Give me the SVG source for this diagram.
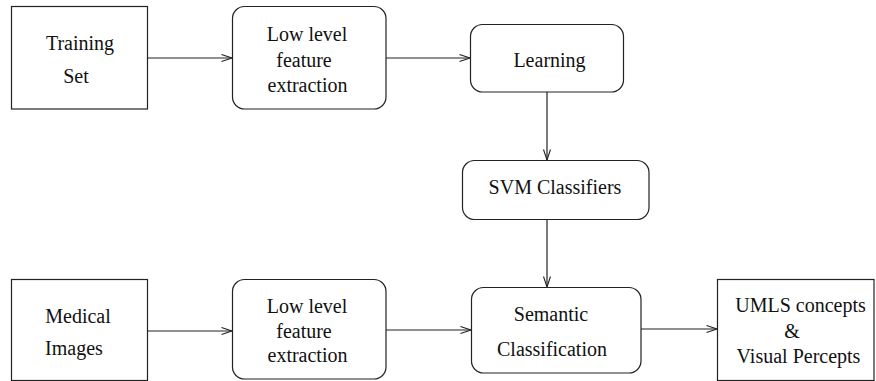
<svg xmlns="http://www.w3.org/2000/svg" width="876" height="381" viewBox="0 0 876 381">
<defs>
<marker id="arr" markerUnits="userSpaceOnUse" markerWidth="12" markerHeight="10" refX="11" refY="4" orient="auto">
<path d="M0.5,0.5 L11,4 L0.5,7.5" fill="none" stroke="#222" stroke-width="1.1"/>
</marker>
<style>
.b{fill:#fff;stroke:#222;stroke-width:1.2}
.t{font-family:"Liberation Serif","Times New Roman",serif;font-size:20px;fill:#111;text-anchor:middle}
.c{fill:none;stroke:#222;stroke-width:1.2;marker-end:url(#arr)}
</style>
</defs>
<rect width="876" height="381" fill="#fff"/>
<g id="connectors">
<path class="c" d="M148,58 H232"/>
<path class="c" d="M386,58 H470"/>
<path class="c" d="M547,92 V160"/>
<path class="c" d="M547,220 V287"/>
<path class="c" d="M148,331 H232"/>
<path class="c" d="M386,330 H471"/>
<path class="c" d="M641,329 H717"/>
</g>
<g id="training-set">
<rect class="b" x="11.5" y="6.5" width="136" height="102.5"/>
<text class="t" x="80" y="50">Training</text>
<text class="t" x="76" y="83">Set</text>
</g>
<g id="lowlevel-top">
<rect class="b" x="232.5" y="6.5" width="153.5" height="102.5" rx="12"/>
<text class="t" x="307" y="41">Low level</text>
<text class="t" x="304" y="67">feature</text>
<text class="t" x="307.5" y="92">extraction</text>
</g>
<g id="learning">
<rect class="b" x="470.5" y="24.5" width="153" height="67.5" rx="12"/>
<text class="t" x="549.5" y="67">Learning</text>
</g>
<g id="svm">
<rect class="b" x="462.5" y="160.5" width="186.5" height="59" rx="12"/>
<text class="t" x="555" y="194">SVM Classifiers</text>
</g>
<g id="medical-images">
<rect class="b" x="11.5" y="279.5" width="136" height="101"/>
<text class="t" x="78" y="323">Medical</text>
<text class="t" x="74" y="355">Images</text>
</g>
<g id="lowlevel-bottom">
<rect class="b" x="232.5" y="279.5" width="153.5" height="99.5" rx="12"/>
<text class="t" x="307" y="313">Low level</text>
<text class="t" x="304" y="338">feature</text>
<text class="t" x="307.5" y="362">extraction</text>
</g>
<g id="semantic">
<rect class="b" x="471.5" y="287.5" width="169.5" height="85.5" rx="12"/>
<text class="t" x="551" y="321">Semantic</text>
<text class="t" x="552" y="356">Classification</text>
</g>
<g id="umls">
<rect class="b" x="717.5" y="279.5" width="156.5" height="101"/>
<text class="t" x="800.5" y="312">UMLS concepts</text>
<text class="t" x="792" y="338">&amp;</text>
<text class="t" x="798.5" y="363">Visual Percepts</text>
</g>
</svg>
